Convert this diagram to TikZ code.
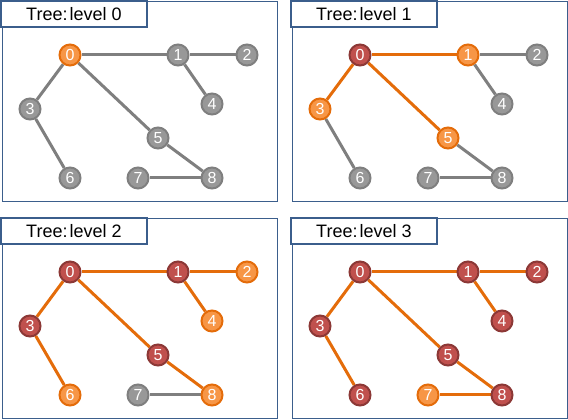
\documentclass[tikz,border=0pt]{standalone}
\usepackage{fontspec}
\setmainfont{Liberation Sans}
\usetikzlibrary{backgrounds}
\definecolor{gfill}{HTML}{989898}
\definecolor{gline}{HTML}{7F7F7F}
\definecolor{ofill}{HTML}{F79646}
\definecolor{oline}{HTML}{E46C0A}
\definecolor{rfill}{HTML}{C0504D}
\definecolor{rline}{HTML}{8C3836}
\definecolor{frameblue}{HTML}{3B5E8C}
\tikzset{
  vtx/.style={circle, line width=1.5pt, minimum size=15.75pt, inner sep=0pt,
    text=white, font=\fontsize{12}{12}\selectfont},
  vg/.style={vtx, draw=gline, fill=gfill},
  vo/.style={vtx, draw=oline, fill=ofill},
  vr/.style={vtx, draw=rline, fill=rfill},
  eg/.style={draw=gline, line width=2.25pt},
  eo/.style={draw=oline, line width=2.25pt},
  panelframe/.style={draw=frameblue, line width=0.75pt},
  titlebox/.style={draw=frameblue, line width=1.5pt, fill=white,
    minimum width=109.5pt, minimum height=19.5pt, inner sep=0pt,
    font=\fontsize{13.5}{13.5}\selectfont},
  n0/.style={vg}, n1/.style={vg}, n2/.style={vg}, n3/.style={vg}, n4/.style={vg},
  n5/.style={vg}, n6/.style={vg}, n7/.style={vg}, n8/.style={vg},
  e01/.style={eg}, e12/.style={eg}, e14/.style={eg}, e03/.style={eg},
  e36/.style={eg}, e05/.style={eg}, e58/.style={eg}, e78/.style={eg}
}
\newcommand\graphpanel[2]{%
  \draw[panelframe] (2,1.5) rectangle (277,201.5);
  \foreach \i/\x/\y in {0/70/55,1/178/55,2/247/55,3/30/109,4/212/104,5/158/138,6/70/178,7/138/178,8/212/178}
    \node[n\i] (#1\i) at (\x,\y) {\i};
  \begin{pgfonlayer}{background}
  \foreach \a/\b in {0/1,1/2,1/4,0/3,3/6,0/5,5/8,7/8}
    \draw[e\a\b] (#1\a) -- (#1\b);
  \end{pgfonlayer}
  \node[titlebox] (#1t) at (74,14) {Tree:\hspace{0.12em}level #2};
}
\begin{document}
\begin{tikzpicture}[x=0.75pt,y=-0.75pt]
\useasboundingbox (0,0) rectangle (568,420);
\begin{scope}[n0/.style={vo}]
  \graphpanel{a}{0}
\end{scope}
\begin{scope}[shift={(290,0)}, n0/.style={vr}, n1/.style={vo}, n3/.style={vo}, n5/.style={vo},
  e01/.style={eo}, e03/.style={eo}, e05/.style={eo}]
  \graphpanel{b}{1}
\end{scope}
\begin{scope}[shift={(0,217)}, n0/.style={vr}, n1/.style={vr}, n3/.style={vr}, n5/.style={vr},
  n2/.style={vo}, n4/.style={vo}, n6/.style={vo}, n8/.style={vo},
  e01/.style={eo}, e12/.style={eo}, e14/.style={eo}, e03/.style={eo},
  e36/.style={eo}, e05/.style={eo}, e58/.style={eo}]
  \graphpanel{c}{2}
\end{scope}
\begin{scope}[shift={(290,217)}, n0/.style={vr}, n1/.style={vr}, n2/.style={vr}, n3/.style={vr},
  n4/.style={vr}, n5/.style={vr}, n6/.style={vr}, n7/.style={vo}, n8/.style={vr},
  e01/.style={eo}, e12/.style={eo}, e14/.style={eo}, e03/.style={eo},
  e36/.style={eo}, e05/.style={eo}, e58/.style={eo}, e78/.style={eo}]
  \graphpanel{d}{3}
\end{scope}
\end{tikzpicture}
\end{document}
